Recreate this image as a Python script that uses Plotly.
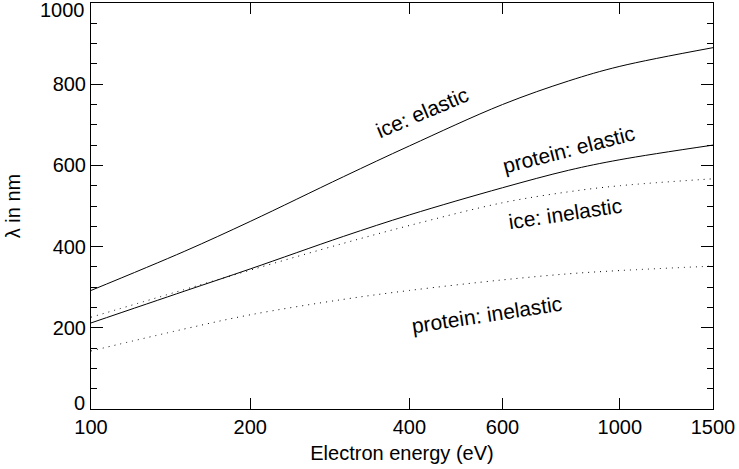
import plotly.graph_objects as go
import math

energy = [100, 150, 200, 300, 400, 600, 800, 1000, 1500]
ice_elastic = [292, 388, 462, 572, 648, 750, 808, 844, 890]
protein_elastic = [212, 290, 345, 425, 478, 545, 588, 614, 650]
ice_inelastic = [226, 294, 342, 408, 452, 508, 535, 550, 567]
protein_inelastic = [143, 197, 232, 270, 292, 318, 333, 341, 352]

x_ticks = [100, 200, 400, 600, 1000, 1500]
y_ticks = [0, 200, 400, 600, 800, 1000]

labels = [
    ("ice: elastic", 422, 731, -23),
    ("protein: elastic", 798, 640, -14.5),
    ("ice: inelastic", 787, 481, -8.5),
    ("protein: inelastic", 561, 232, -8.7),
]

FONT = "Liberation Sans, Arial, Helvetica, sans-serif"
FS = 20
fig = go.Figure()
series = [
    (ice_elastic, "solid"),
    (protein_elastic, "solid"),
    (ice_inelastic, "1px,5px"),
    (protein_inelastic, "1px,5px"),
]
for ys, dash in series:
    fig.add_trace(go.Scatter(x=energy, y=ys, mode="lines",
                             line=dict(color="black", width=1, dash=dash, shape="spline", smoothing=1.0),
                             showlegend=False, hoverinfo="skip"))

for text, xv, yv, ang in labels:
    fig.add_annotation(x=math.log10(xv), y=yv, xref="x", yref="y", text=text,
                       showarrow=False, textangle=ang,
                       font=dict(family=FONT, size=21, color="black"))

# end tick labels of the y axis, nudged inside the figure as in the original
y_ticktext = [("" if v in (0, 1000) else str(v)) for v in y_ticks]
for v, shift in ((0, 6), (1000, -7)):
    fig.add_annotation(x=0, xref="paper", y=v, yref="y", text=str(v),
                       showarrow=False, xanchor="right", yanchor="middle",
                       xshift=-4, yshift=shift,
                       font=dict(family=FONT, size=FS, color="black"))

fig.update_layout(
    width=739, height=469,
    margin=dict(l=91, r=26, t=3, b=60),
    paper_bgcolor="white", plot_bgcolor="white",
    font=dict(family=FONT, size=FS, color="black"),
)
fig.update_xaxes(type="log", range=[2, math.log10(1500)],
                 tickvals=x_ticks, ticktext=[str(v) for v in x_ticks],
                 ticks="inside", ticklen=11, tickwidth=1, tickcolor="black",
                 showline=True, linecolor="black", linewidth=1, mirror="ticks",
                 showgrid=False, zeroline=False, ticklabeloverflow="allow",
                 title=dict(text="Electron energy (eV)", standoff=8,
                            font=dict(family=FONT, size=FS)))
fig.update_yaxes(range=[0, 1000], tickvals=y_ticks, ticktext=y_ticktext,
                 ticks="inside", ticklen=12, tickwidth=1, tickcolor="black",
                 minor=dict(dtick=50, ticks="inside", ticklen=6, tickcolor="black", tickwidth=1),
                 showline=True, linecolor="black", linewidth=1, mirror="ticks",
                 showgrid=False, zeroline=False,
                 title=dict(text="λ in nm", standoff=26,
                            font=dict(family=FONT, size=FS)))

fig.write_html("out.html")
